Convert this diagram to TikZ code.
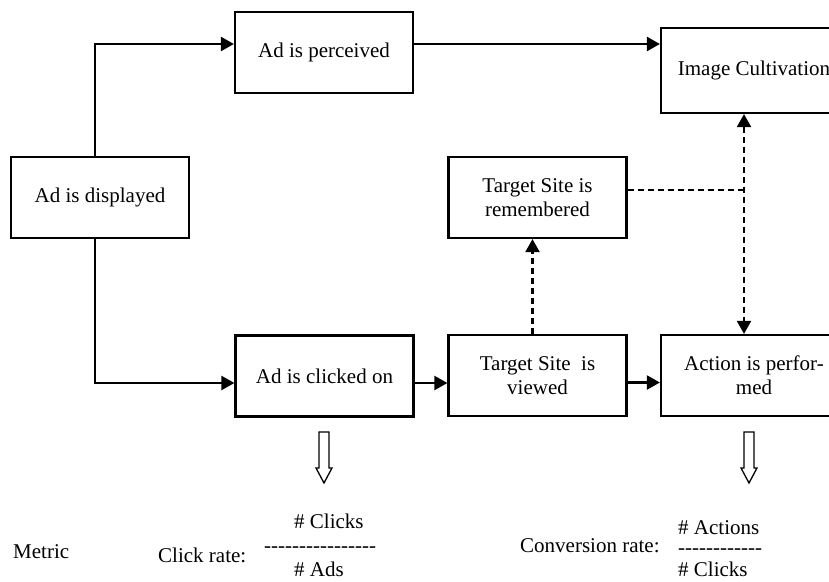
\documentclass[tikz,border=0pt]{standalone}
\usepackage{fontspec}
\setmainfont{Liberation Serif}
\usetikzlibrary{arrows.meta}

\newcommand{\hyphenrow}[1]{\foreach \n in {1,...,#1}{-\kern0pt}}

\tikzset{
  box/.style={draw, line width=2.2pt, minimum width=178pt, minimum height=81pt, align=center, inner sep=2pt},
  flow/.style={line width=2.2pt, -{Triangle[length=13pt,width=14pt]}},
  dflow/.style={flow, dash pattern=on 6pt off 4pt},
  hollowdown/.style={draw, line width=1.3pt, line join=miter},
  txt/.style={anchor=base west, inner sep=0pt}
}

\begin{document}
\begin{tikzpicture}[x=1pt, y=-1pt, font=\fontsize{21}{24}\selectfont]
                \useasboundingbox (0,0) rectangle (829,581);
                \clip (0,0) rectangle (829,581);
                %% Boxes
                \node[box] (disp) at (100,197.5) {Ad is displayed};
                \node[box] (perc) at (324,52.5) {Ad is perceived};
                \node[box, minimum width=186pt, minimum height=85pt] (img) at (754,70.5) {Image Cultivation};
                \node[box] (rem) at (537.5,197.5) {Target Site is\\remembered};
                \node[box] (click) at (324.5,376) {Ad is clicked on};
                \node[box] (view) at (537.5,375.5) {Target Site~ is\\viewed};
                \node[box, minimum width=186pt] (act) at (754,375.5) {Action is perfor-\\med};
                %% Solid arrows
                \draw[flow] ([xshift=-5pt]disp.north) |- ([yshift=8.5pt]perc.west);
                \draw[flow] ([yshift=8.5pt]perc.east) -- ([yshift=8.5pt]perc.east -| img.west);
                \draw[flow] ([xshift=-5pt]disp.south) |- ([yshift=-7pt]click.west);
                \draw[flow] ([yshift=-7pt]click.east) -- ([yshift=-7pt]click.east -| view.west);
                \draw[flow] ([yshift=-7pt]view.east) -- ([yshift=-7pt]view.east -| act.west);
                %% Dashed arrows
                \coordinate (vtop) at ([xshift=-10pt]img.south);
                \coordinate (vbot) at (vtop |- act.north);
                \draw[dflow] ([xshift=-5pt]view.north) -- ([xshift=-5pt]rem.south);
                \draw[dflow, {Triangle[length=13pt,width=14pt]}-{Triangle[length=13pt,width=14pt]}] (vtop) -- (vbot);
                \draw[line width=2.2pt, dash pattern=on 6pt off 4pt] ([yshift=7.5pt]rem.east) -- ([yshift=7.5pt]rem.east -| vtop);
                %% Metrics
                \coordinate (clickdown) at (324,432);
                \coordinate (actdown) at (749,432);
                \foreach \a in {clickdown,actdown}
                  \draw[hollowdown] (\a) ++(-5,0) -- ++(0,36) -- ++(-3,0) -- ++(8,15) -- ++(8,-15) -- ++(-3,0) -- ++(0,-36) -- cycle;
                \node[txt] (metric) at (13,558) {Metric};
                \node[txt] (clickrate) at (158,562) {Click rate:};
                \node[txt] (clicknum) at (294,528) {\# Clicks};
                \node[txt] (clickbar) at (264,552) {\hyphenrow{16}};
                \node[txt] (clickden) at (294,576) {\# Ads};
                \node[txt] (convrate) at (520,552) {Conversion rate:};
                \node[txt] (convnum) at (678,534) {\# Actions};
                \node[txt] (convbar) at (678,554) {\hyphenrow{12}};
                \node[txt] (convden) at (678,576) {\# Clicks};
            \end{tikzpicture}
\end{document}
